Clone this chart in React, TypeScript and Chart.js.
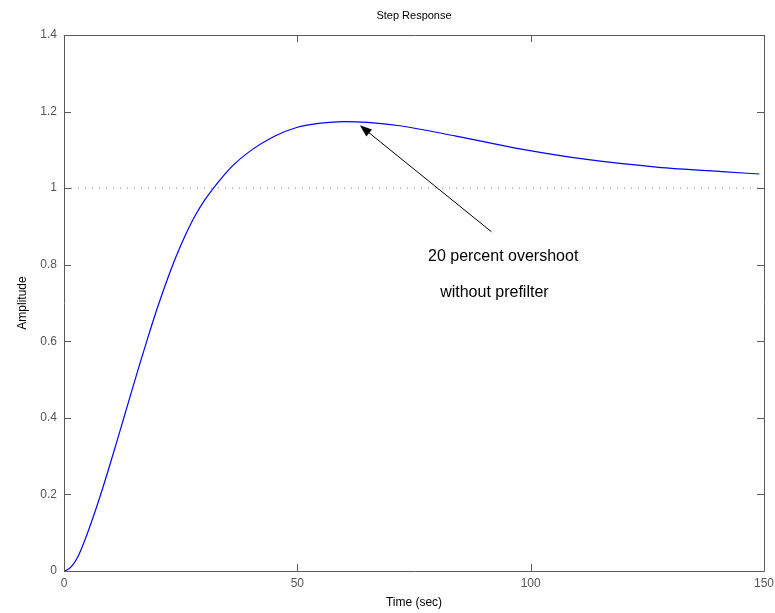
import React, { useEffect, useRef } from "react";
import { Chart, registerables } from "chart.js";

Chart.register(...registerables);

// Step response samples
const timeValues = [0, 1, 2, 3, 4, 6, 8, 10, 12, 14, 16, 18, 20, 22, 24, 26, 28, 30, 33, 36, 40, 45, 50, 55, 60, 65, 72, 84, 98, 112, 127, 141, 149];
const amplitudeValues = [0, 0.005, 0.018, 0.038, 0.066, 0.132, 0.205, 0.284, 0.366, 0.449, 0.531, 0.611, 0.687, 0.757, 0.821, 0.877, 0.926, 0.966, 1.015, 1.057, 1.098, 1.135, 1.159, 1.17, 1.174, 1.172, 1.163, 1.136, 1.102, 1.075, 1.055, 1.043, 1.037];

// Reference (steady state) line
const refTimes = [0, 150];
const refValues = [1, 1];

// Axis ticks
const xTickValues = [0, 50, 100, 150];
const yTickValues = [0, 0.2, 0.4, 0.6, 0.8, 1, 1.2, 1.4];

// Texts
const chartTitle = "Step Response";
const xAxisLabel = "Time (sec)";
const yAxisLabel = "Amplitude";
const noteLines = ["20 percent overshoot", "without prefilter"];
const noteTimes = [78, 80.6];
const noteAmps = [0.822, 0.728];
// Arrow: tail -> tip (data coords)
const arrowFrom = [91.6, 0.886];
const arrowTo = [63.4, 1.164];

const FONT = "'Liberation Sans', Arial, Helvetica, sans-serif";

export default function App() {
  const ref = useRef<HTMLCanvasElement | null>(null);

  useEffect(() => {
    document.body.style.margin = "0";
    const canvas = ref.current;
    if (!canvas) return;

    const decorPlugin = {
      id: "decor",
      afterDatasetsDraw(chart: any) {
        const { ctx, chartArea, scales } = chart;
        const xs = scales.x;
        const ys = scales.y;
        const { left, right, top, bottom } = chartArea;
        ctx.save();
        // box
        ctx.strokeStyle = "#5a5a5a";
        ctx.lineWidth = 1;
        ctx.beginPath();
        ctx.rect(Math.round(left) + 0.5, Math.round(top) + 0.5, Math.round(right - left), Math.round(bottom - top));
        ctx.stroke();
        // inner ticks
        const tl = 7;
        ctx.beginPath();
        yTickValues.forEach((v) => {
          const y = Math.round(ys.getPixelForValue(v)) + 0.5;
          ctx.moveTo(left, y);
          ctx.lineTo(left + tl, y);
          ctx.moveTo(right, y);
          ctx.lineTo(right - tl, y);
        });
        xTickValues.forEach((v) => {
          const x = Math.round(xs.getPixelForValue(v)) + 0.5;
          ctx.moveTo(x, bottom);
          ctx.lineTo(x, bottom - tl);
          ctx.moveTo(x, top);
          ctx.lineTo(x, top + tl);
        });
        ctx.stroke();

        // title
        ctx.fillStyle = "#000";
        ctx.font = `11px ${FONT}`;
        ctx.textAlign = "center";
        ctx.textBaseline = "middle";
        ctx.fillText(chartTitle, (left + right) / 2, 16);

        // arrow
        const x1 = xs.getPixelForValue(arrowFrom[0]);
        const y1 = ys.getPixelForValue(arrowFrom[1]);
        const x2 = xs.getPixelForValue(arrowTo[0]);
        const y2 = ys.getPixelForValue(arrowTo[1]);
        const ang = Math.atan2(y2 - y1, x2 - x1);
        const hl = 12;
        const hw = 4.5;
        ctx.strokeStyle = "#000";
        ctx.fillStyle = "#000";
        ctx.lineWidth = 1;
        ctx.beginPath();
        ctx.moveTo(x1, y1);
        ctx.lineTo(x2 - Math.cos(ang) * hl * 0.8, y2 - Math.sin(ang) * hl * 0.8);
        ctx.stroke();
        ctx.beginPath();
        ctx.moveTo(x2, y2);
        ctx.lineTo(x2 - Math.cos(ang) * hl - Math.sin(ang) * hw, y2 - Math.sin(ang) * hl + Math.cos(ang) * hw);
        ctx.lineTo(x2 - Math.cos(ang) * hl + Math.sin(ang) * hw, y2 - Math.sin(ang) * hl - Math.cos(ang) * hw);
        ctx.closePath();
        ctx.fill();

        // note text
        ctx.font = `16px ${FONT}`;
        ctx.textAlign = "left";
        ctx.textBaseline = "middle";
        noteLines.forEach((t, i) => {
          ctx.fillText(t, xs.getPixelForValue(noteTimes[i]), ys.getPixelForValue(noteAmps[i]));
        });
        ctx.restore();
      },
    };

    const chart = new Chart(canvas, {
      type: "line",
      data: {
        datasets: [
          {
            label: "ref",
            data: refTimes.map((t, i) => ({ x: t, y: refValues[i] })),
            borderColor: "#808080",
            borderWidth: 1,
            borderDash: [1, 6],
            pointRadius: 0,
            fill: false,
          },
          {
            label: "step",
            data: timeValues.map((t, i) => ({ x: t, y: amplitudeValues[i] })),
            borderColor: "#0000ff",
            borderWidth: 1.2,
            pointRadius: 0,
            cubicInterpolationMode: "monotone",
            fill: false,
          },
        ],
      },
      options: {
        responsive: false,
        animation: false,
        events: [],
        layout: { padding: { top: 35, right: 11, left: 0, bottom: 0 } },
        plugins: {
          legend: { display: false },
          tooltip: { enabled: false },
          title: { display: false },
        },
        scales: {
          x: {
            type: "linear",
            min: 0,
            max: 150,
            afterFit: (s: any) => {
              s.height = 42;
              s.paddingLeft = 0;
              s.paddingRight = 0;
            },
            afterBuildTicks: (s: any) => {
              s.ticks = xTickValues.map((v) => ({ value: v }));
            },
            grid: { display: false, drawTicks: false },
            border: { display: false },
            ticks: {
              color: "#555",
              font: { family: FONT, size: 12 },
              padding: 5,
              maxRotation: 0,
            },
            title: {
              display: true,
              text: xAxisLabel,
              color: "#000",
              font: { family: FONT, size: 12 },
              padding: { top: 0, bottom: 3 },
            },
          },
          y: {
            type: "linear",
            min: 0,
            max: 1.4,
            afterFit: (s: any) => {
              s.width = 64;
              s.paddingTop = 0;
              s.paddingBottom = 0;
            },
            afterBuildTicks: (s: any) => {
              s.ticks = yTickValues.map((v) => ({ value: v }));
            },
            grid: { display: false, drawTicks: false },
            border: { display: false },
            ticks: {
              color: "#555",
              font: { family: FONT, size: 12 },
              padding: 7,
              callback: (v: any) => String(+Number(v).toFixed(1)),
            },
            title: {
              display: true,
              text: yAxisLabel,
              color: "#000",
              font: { family: FONT, size: 12 },
              padding: { top: 15, bottom: 0 },
            },
          },
        },
      },
      plugins: [decorPlugin],
    } as any);

    return () => chart.destroy();
  }, []);

  return (
    <div style={{ width: 775, height: 613, background: "#fff" }}>
      <canvas ref={ref} width={775} height={613} style={{ display: "block" }} />
    </div>
  );
}
